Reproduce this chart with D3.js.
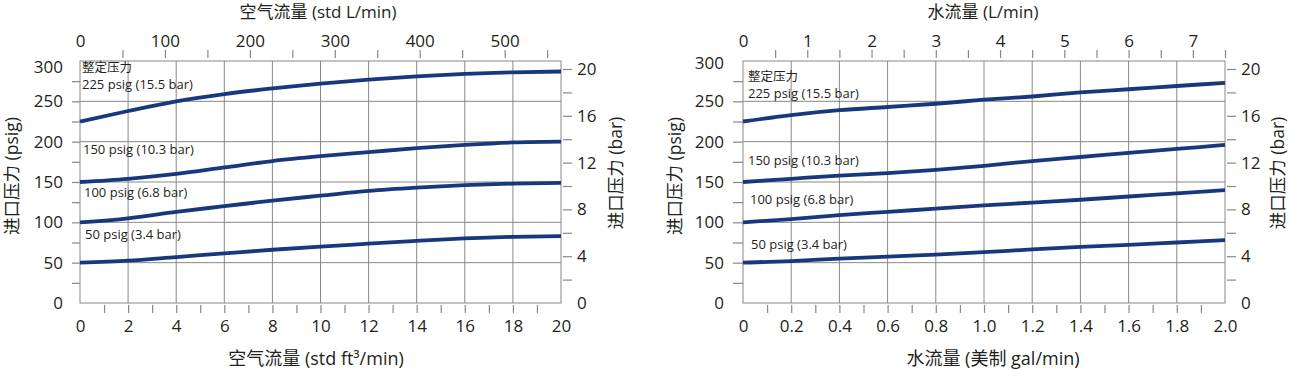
<!DOCTYPE html>
<html>
<head>
<meta charset="utf-8">
<script src="https://cdn.jsdelivr.net/npm/d3@7"></script>
<style>
body { margin: 0; background: #fff; }
svg text { font-family: "Open Sans", "Noto Sans CJK SC", sans-serif; fill: #231f20; }
</style>
</head>
<body>
<svg id="chart" width="1289" height="370"></svg>
<script>
// inlet pressure (psig) vs flow, one curve per set pressure
var airFlow = [0, 2, 4, 6, 8, 10, 12, 14, 16, 18, 20];          // std ft3/min
var air225 = [225, 238, 250, 259, 266, 272, 277, 281, 284, 286, 287];
var air150 = [150, 154, 160, 168, 176, 182, 187, 192, 196, 199, 200];
var air100 = [100, 105, 113, 120, 127, 133, 139, 143, 146, 148, 149];
var air50  = [50, 52.5, 57, 61.5, 66, 70, 73.5, 77, 80, 82, 83];

var waterFlow = [0, 0.2, 0.4, 0.6, 0.8, 1.0, 1.2, 1.4, 1.6, 1.8, 2.0]; // US gal/min
var water225 = [225, 233, 239, 243, 247, 252, 256, 261, 265, 269, 273];
var water150 = [150, 154, 158, 161, 165, 170, 176, 181, 186, 191, 196];
var water100 = [100, 104, 109, 113, 117, 121, 124.5, 128, 132, 136, 140];
var water50  = [50, 52, 55, 57.5, 60, 63, 66.5, 69.5, 72, 75, 78];

var setHeader = "整定压力";
var setLabels = ["225 psig (15.5 bar)", "150 psig (10.3 bar)", "100 psig (6.8 bar)", "50 psig (3.4 bar)"];

var psigTicks = d3.range(0, 301, 25);
var psigGrid = [50, 100, 150, 200, 250];
var barTicks = d3.range(0, 21, 2);
var PSI_PER_BAR = 14.5038;

var lineColor = "#18387d";
var gridColor = "#888";

var svg = d3.select("#chart");

function drawPanel(cfg) {
	var top = 61, bottom = 303;
	var x = d3.scaleLinear().domain(cfg.xDomain).range([cfg.left, cfg.right]);
	var xTop = d3.scaleLinear().domain(cfg.topDomain).range([cfg.left, cfg.right]);
	var y = d3.scaleLinear().domain([0, 300]).range([bottom, top]);
	var yBar = d3.scaleLinear().domain([0, 300 / PSI_PER_BAR]).range([bottom, top]);

	var g = svg.append("g");

	// grid
	g.append("g").selectAll("line")
		.data(cfg.gridX)
		.enter().append("line")
		.attr("x1", function(d) { return x(d); })
		.attr("x2", function(d) { return x(d); })
		.attr("y1", top).attr("y2", bottom)
		.attr("stroke", gridColor).attr("stroke-width", 1);
	g.append("g").selectAll("line")
		.data(psigGrid)
		.enter().append("line")
		.attr("x1", cfg.left).attr("x2", cfg.right)
		.attr("y1", function(d) { return y(d); })
		.attr("y2", function(d) { return y(d); })
		.attr("stroke", gridColor).attr("stroke-width", 1);
	g.append("rect")
		.attr("x", cfg.left).attr("y", top)
		.attr("width", cfg.right - cfg.left).attr("height", bottom - top)
		.attr("fill", "none").attr("stroke", gridColor).attr("stroke-width", 1);

	// curves
	var line = d3.line()
		.x(function(d) { return x(d[0]); })
		.y(function(d) { return y(d[1]); })
		.curve(d3.curveMonotoneX);
	cfg.series.forEach(function(s) {
		g.append("path")
			.datum(cfg.xs.map(function(v, i) { return [v, s[i]]; }))
			.attr("d", line)
			.attr("fill", "none")
			.attr("stroke", lineColor)
			.attr("stroke-width", 3.8);
	});

	// axes
	function style(ax, hide) {
		ax.select(".domain").remove();
		ax.selectAll(".tick line").attr("stroke", gridColor)
			.attr("stroke-width", 1.2)
			.style("display", function(d) { return hide(d) ? "none" : null; });
		ax.selectAll(".tick text").style("font-size", "17px").attr("fill", "#231f20");
	}

	var axLeft = g.append("g").attr("transform", "translate(" + cfg.left + ",0)")
		.call(d3.axisLeft(y).tickValues(psigTicks).tickSize(cfg.leftTick).tickPadding(9)
			.tickFormat(function(d) { return d % 50 === 0 ? d : ""; }));
	style(axLeft, function(d) { return d === 0 || d === 300; });
	axLeft.selectAll(".tick text").filter(function(d) { return d === 300; })
		.attr("dy", (0.32 + cfg.topLabelShift / 17) + "em");

	var axRight = g.append("g").attr("transform", "translate(" + (cfg.right + 2) + ",0)")
		.call(d3.axisRight(yBar).tickValues(barTicks).tickSize(9).tickPadding(5)
			.tickFormat(function(d) { return d % 4 === 0 ? d : ""; }));
	style(axRight, function(d) { return d === 0; });

	var axTop = g.append("g").attr("transform", "translate(0,58)")
		.call(d3.axisTop(xTop).tickValues(cfg.topTicks).tickSize(8).tickPadding(3)
			.tickFormat(cfg.topFormat));
	style(axTop, function(d) { return d === 0; });

	var axBottom = g.append("g").attr("transform", "translate(0,305)")
		.call(d3.axisBottom(x).tickValues(cfg.bottomTicks).tickSize(8).tickPadding(7)
			.tickFormat(cfg.bottomFormat));
	style(axBottom, function(d) { return d === cfg.xDomain[0] || d === cfg.xDomain[1]; });

	// titles
	g.append("text").attr("x", cfg.topTitleX).attr("y", 18)
		.attr("text-anchor", "middle").style("font-size", "17px").text(cfg.topTitle);
	g.append("text").attr("x", cfg.bottomTitleX).attr("y", 365)
		.attr("text-anchor", "middle").style("font-size", "18px").text(cfg.bottomTitle);
	g.append("text")
		.attr("transform", "translate(" + cfg.psigTitleX + ",176) rotate(-90)")
		.attr("text-anchor", "middle").style("font-size", "17.5px").text("进口压力 (psig)");
	g.append("text")
		.attr("transform", "translate(" + cfg.barTitleX + ",173) rotate(-90)")
		.attr("text-anchor", "middle").style("font-size", "17.5px").text("进口压力 (bar)");

	// set pressure notes
	g.append("text").attr("x", cfg.noteX[0]).attr("y", cfg.headerY)
		.style("font-size", "12.5px").text(setHeader);
	g.selectAll(".note")
		.data(setLabels)
		.enter().append("text")
		.attr("class", "note")
		.attr("x", function(d, i) { return cfg.noteX[i]; })
		.attr("y", function(d, i) { return cfg.noteY[i]; })
		.style("font-size", "13px")
		.text(function(d) { return d; });
}

drawPanel({
	left: 80, right: 561,
	xDomain: [0, 20], topDomain: [0, 20 * 28.317],
	xs: airFlow, series: [air225, air150, air100, air50],
	gridX: d3.range(2, 20, 2),
	leftTick: 8, topLabelShift: 6,
	topTicks: d3.range(0, 551, 50),
	topFormat: function(d) { return d % 100 === 0 ? d : ""; },
	bottomTicks: d3.range(0, 21, 1),
	bottomFormat: function(d) { return d % 2 === 0 ? d : ""; },
	topTitle: "空气流量 (std L/min)", topTitleX: 318,
	bottomTitle: "空气流量 (std ft³/min)", bottomTitleX: 316,
	psigTitleX: 18, barTitleX: 622,
	noteX: [82, 83, 84, 85], headerY: 72, noteY: [89, 154, 197, 239]
});

drawPanel({
	left: 743, right: 1225,
	xDomain: [0, 2], topDomain: [0, 7.5],
	xs: waterFlow, series: [water225, water150, water100, water50],
	gridX: [0.2, 0.4, 0.6, 0.8, 1.0, 1.2, 1.4, 1.6, 1.8],
	leftTick: 10, topLabelShift: 2,
	topTicks: d3.range(0, 16).map(function(i) { return i / 2; }),
	topFormat: function(d) { return Number.isInteger(d) ? d : ""; },
	bottomTicks: d3.range(0, 21).map(function(i) { return i / 10; }),
	bottomFormat: function(d) {
		var i = Math.round(d * 10);
		return i % 2 !== 0 ? "" : (i === 0 ? "0" : d.toFixed(1));
	},
	topTitle: "水流量 (L/min)", topTitleX: 983,
	bottomTitle: "水流量 (美制 gal/min)", bottomTitleX: 993,
	psigTitleX: 681, barTitleX: 1284,
	noteX: [748, 748, 750, 751], headerY: 81, noteY: [98, 165, 204, 249]
});
</script>
</body>
</html>
